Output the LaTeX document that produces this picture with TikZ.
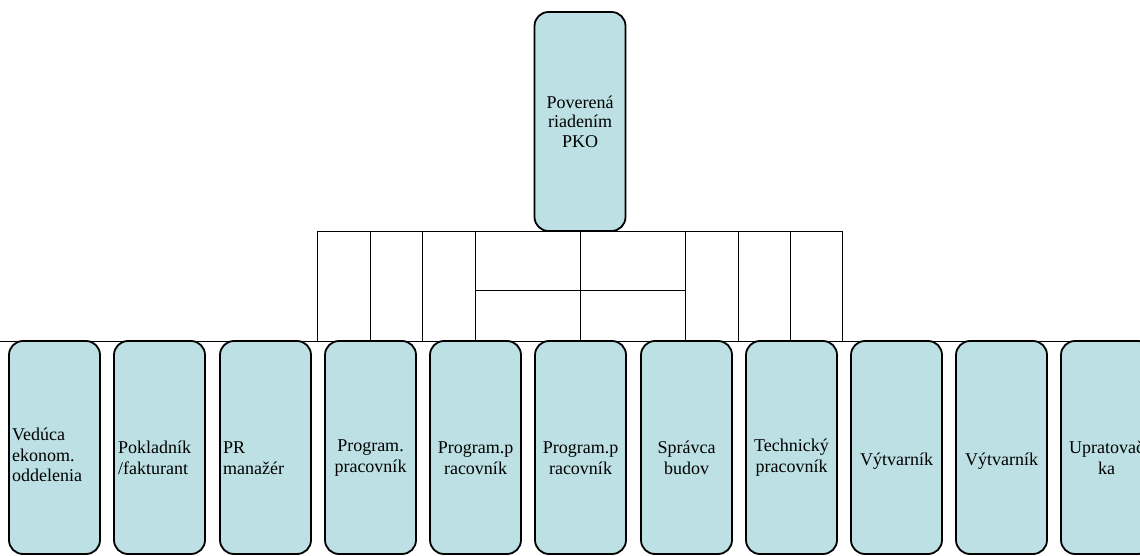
\documentclass[tikz,border=0pt]{standalone}
\usepackage{fontspec}
\setmainfont{Liberation Serif}
\definecolor{boxfill}{RGB}{188,224,227}

\begin{document}
\begin{tikzpicture}[x=1pt,y=-1pt]
\tikzstyle{box}=[rectangle,rounded corners=14pt,draw=black,line width=1.8pt,fill=boxfill,minimum width=91pt,minimum height=213pt,inner sep=0pt]
\tikzstyle{headbox}=[box,minimum height=219pt]
\tikzstyle{txt}=[font=\fontsize{18}{20.7}\selectfont,inner sep=0pt]
\tikzstyle{conn}=[draw=black,line width=0.9pt]
\clip (0,0) rectangle (1140,556);

\coordinate (barL) at (317,231);
\coordinate (barR) at (842,231);
\coordinate (busL) at (0,341);
\coordinate (busR) at (1140,341);
\coordinate (midL) at (475,290);
\coordinate (midR) at (685,290);

\path [conn] (barL) -- (barR);
\path [conn] (busL) -- (busR);
\path [conn] (midL) -- (midR);
\foreach \x in {317,370,422,475,580,685,738,790,842}
  \path [conn] (\x,0 |- barL) -- (\x,0 |- busL);

\node [headbox] (head) at (580,121.5) {};
\node [txt,align=center,font=\fontsize{18}{19.5}\selectfont] (headtxt) at (head.center) {Poverená\\riadením\\PKO};

\node [box] (b1) at (54.5,447.5) {};
\node [box] (b2) at (159.5,447.5) {};
\node [box] (b3) at (265.5,447.5) {};
\node [box] (b4) at (370.5,447.5) {};
\node [box] (b5) at (475.5,447.5) {};
\node [box] (b6) at (580.5,447.5) {};
\node [box] (b7) at (686.5,447.5) {};
\node [box] (b8) at (791.5,447.5) {};
\node [box] (b9) at (896.5,447.5) {};
\node [box] (b10) at (1001.5,447.5) {};
\node [box] (b11) at (1106.5,447.5) {};

\node [txt,align=left,anchor=west] (t1) at (12,455) {Vedúca\\ekonom.\\oddelenia};
\node [txt,align=left,anchor=west] (t2) at (118,458) {Pokladník\\/fakturant};
\node [txt,align=left,anchor=west] (t3) at (223,458) {PR\\manažér};
\node [txt,align=center] (t4) at (b4 |- 0,458) {Program.\\pracovník};
\node [txt,align=center] (t5) at (b5 |- 0,458) {Program.p\\racovník};
\node [txt,align=center] (t6) at (b6 |- 0,458) {Program.p\\racovník};
\node [txt,align=center] (t7) at (b7 |- 0,458) {Správca\\budov};
\node [txt,align=center] (t8) at (b8 |- 0,458) {Technický\\pracovník};
\node [txt,align=center] (t9) at (b9 |- 0,461) {Výtvarník};
\node [txt,align=center] (t10) at (b10 |- 0,461) {Výtvarník};
\node [txt,align=center] (t11) at (b11 |- 0,458) {Upratovač\\ka};
\end{tikzpicture}
\end{document}
